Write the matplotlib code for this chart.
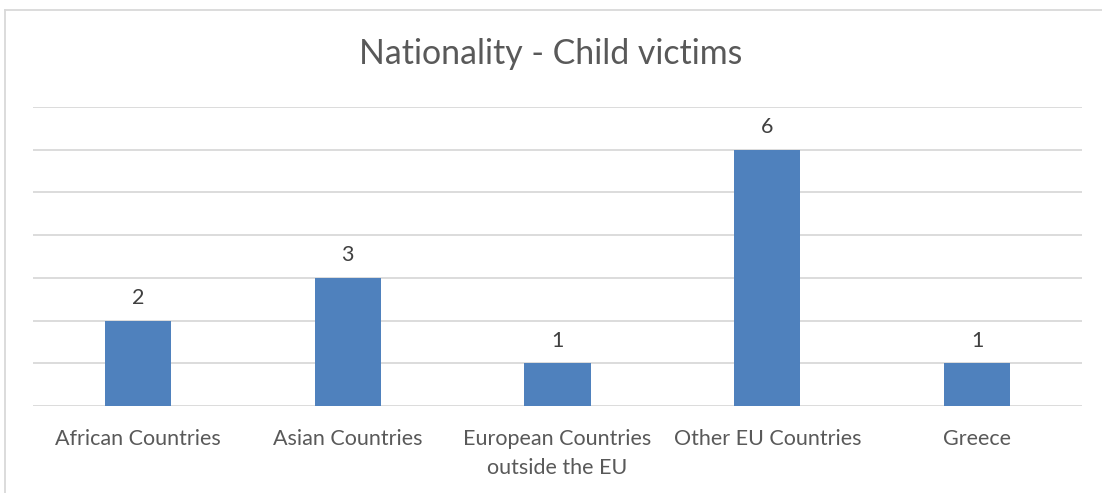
import matplotlib
matplotlib.use("Agg")
import matplotlib.pyplot as plt
from matplotlib.lines import Line2D

categories = ["African Countries", "Asian Countries", "European Countries\noutside the EU",
              "Other EU Countries", "Greece"]
values = [2, 3, 1, 6, 1]

W, H = 1102, 493
fig = plt.figure(figsize=(W / 100, H / 100), dpi=100)
plt.rcParams['font.family'] = ['Lato', 'DejaVu Sans']
txt = '#595959'

left, right, bottom, top = 33 / W, 1082 / W, 1 - 406 / H, 1 - 107 / H
ax = fig.add_axes([left, bottom, right - left, top - bottom])
x = list(range(len(categories)))
bars = ax.bar(x, values, width=0.315, color='#4F81BD', zorder=3)
ax.set_xlim(-0.5, len(categories) - 0.5)
ax.set_ylim(0, 7)
ax.set_yticks(range(0, 8))
ax.yaxis.grid(True, color='#D9D9D9', linewidth=1.3, zorder=0)
ax.set_yticklabels([])
ax.tick_params(axis='y', length=0)
ax.set_xticks(x)
ax.set_xticklabels(categories, fontsize=15.5, color=txt, linespacing=1.55)
ax.tick_params(axis='x', length=0, pad=16.5)
for s in ax.spines.values():
    s.set_visible(False)
for b, v in zip(bars, values):
    ax.annotate(str(v), (b.get_x() + b.get_width() / 2, v), xytext=(0, 9),
                textcoords='offset points', ha='center', va='bottom', fontsize=15.5, color='#404040')

fig.text(0.5, 1 - 54 / H, "Nationality - Child victims", ha='center', va='center',
         fontsize=24.4, color=txt)

# outer chart border (top and left visible)
fig.add_artist(Line2D([4.5 / W, 4.5 / W], [0, 1 - 9.5 / H], transform=fig.transFigure, color='#D9D9D9', lw=1.3))
fig.add_artist(Line2D([4.5 / W, 1], [1 - 9.5 / H, 1 - 9.5 / H], transform=fig.transFigure, color='#D9D9D9', lw=1.3))

fig.savefig("out.png", dpi=100)
